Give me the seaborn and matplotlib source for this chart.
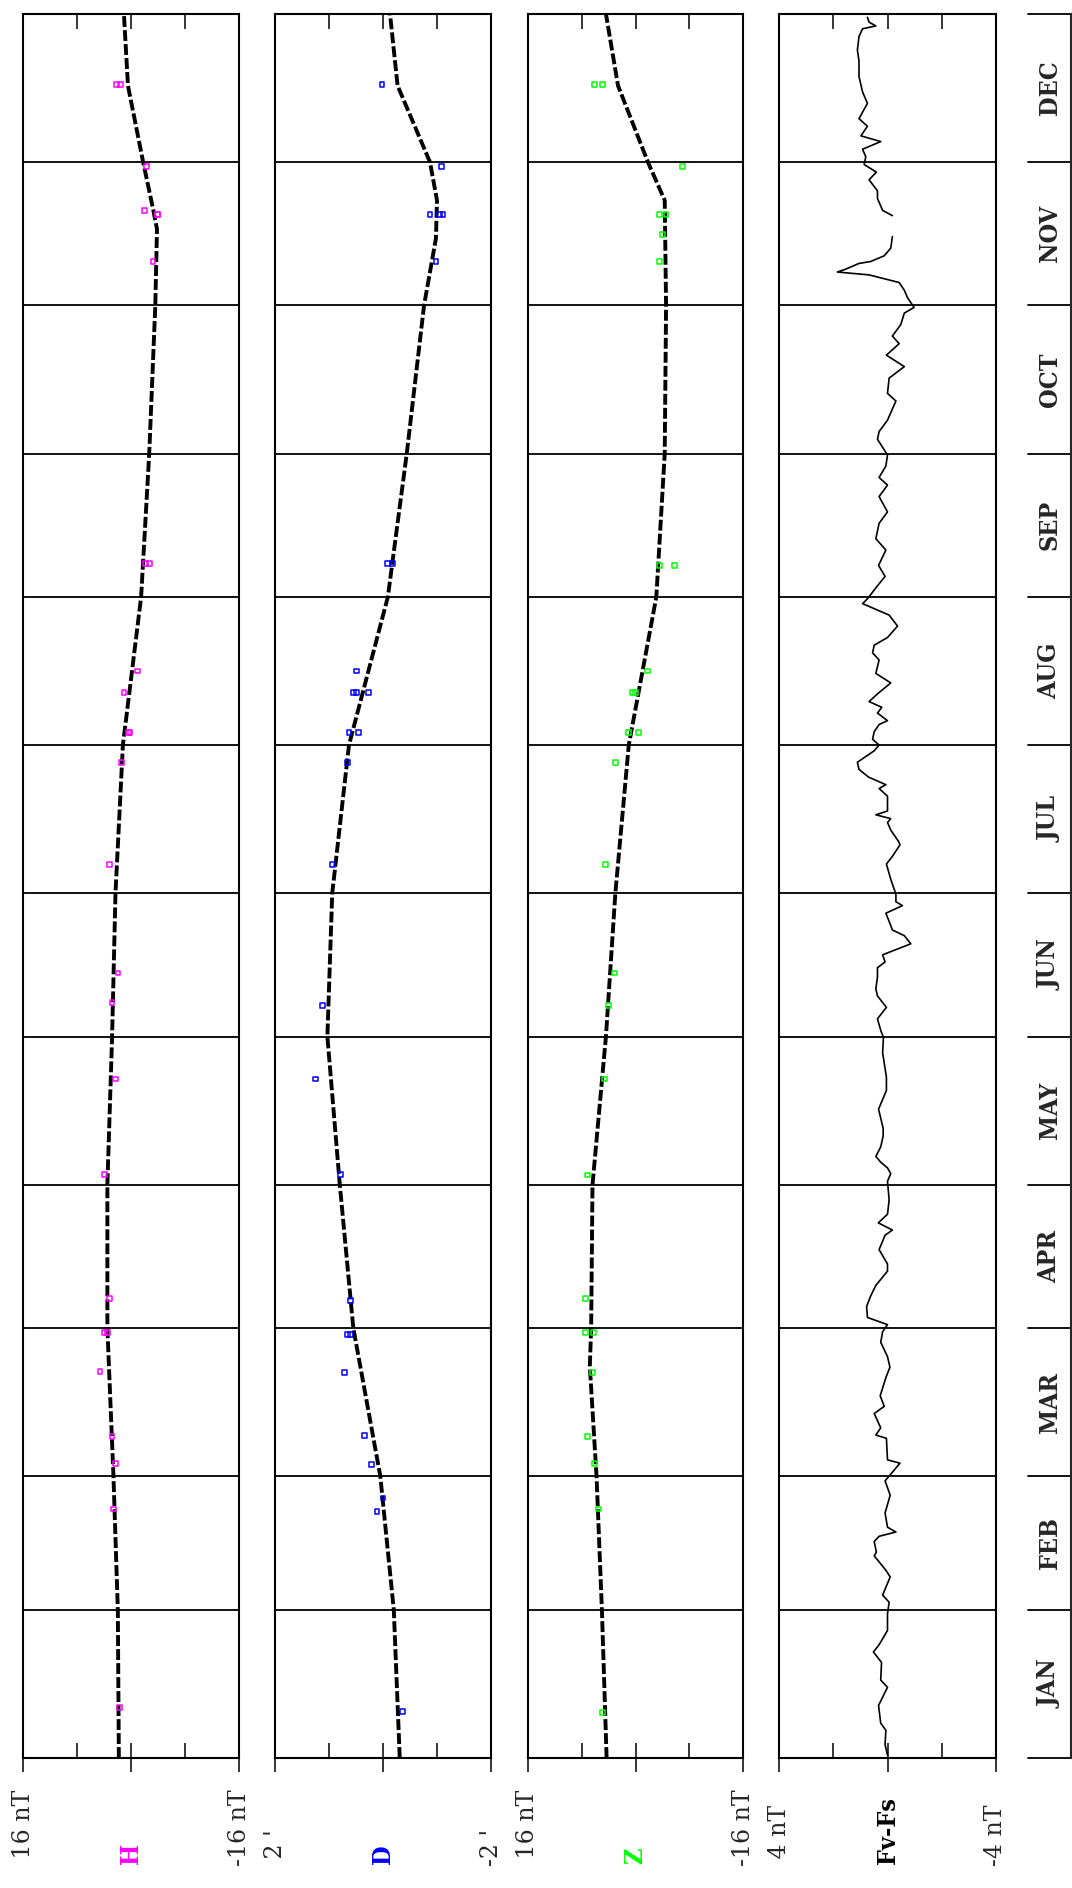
import numpy as np
import pandas as pd
import matplotlib
matplotlib.use('Agg')
import matplotlib.pyplot as plt
import seaborn as sns

# Month layout (day of year)
months = ['JAN', 'FEB', 'MAR', 'APR', 'MAY', 'JUN', 'JUL', 'AUG', 'SEP', 'OCT', 'NOV', 'DEC']
month_start = [0, 31, 59, 90, 120, 151, 181, 212, 243, 273, 304, 334, 365]

# Baselines (dashed black) per component
h_base_day = [0, 31, 59, 90, 120, 151, 181, 212, 243, 273, 304, 320, 324, 334, 350, 365]
h_base_val = [1.8, 1.95, 2.6, 3.5, 3.5, 2.8, 2.3, 1.2, -1.5, -2.7, -3.6, -3.85, -3.3, -1.8, 0.45, 1.05]
d_base_day = [0, 31, 59, 90, 120, 151, 181, 212, 243, 273, 304, 318, 326, 334, 350, 365]
d_base_val = [-0.31, -0.2, 0.05, 0.55, 0.8, 1.03, 0.94, 0.63, -0.09, -0.44, -0.76, -0.98, -1.0, -0.87, -0.27, -0.13]
z_base_day = [0, 31, 59, 82, 90, 120, 151, 181, 212, 243, 273, 304, 326, 334, 350, 365]
z_base_val = [4.3, 5.0, 5.8, 6.8, 6.6, 6.4, 4.4, 3.0, 1.0, -3.1, -4.35, -4.55, -4.35, -1.85, 2.6, 4.4]

# Absolute observations
h_obs_day = [10.6, 52.1, 61.7, 67.3, 80.9, 89, 89, 96.2, 122.2, 142.1, 158.2, 164.3, 187, 208.4, 214.7, 214.7,
             223, 227.5, 250, 250, 313.2, 323, 323.8, 323, 333.1, 350.3, 350.3]
h_obs_val = [1.75, 2.64, 2.28, 2.82, 4.6, 3.53, 3.89, 3.18, 3.89, 2.28, 2.82, 1.93, 3.18, 1.39, 0.32, 0.14,
             1.04, -0.93, -2.18, -2.71, -3.25, -3.96, -2.0, -3.96, -2.35, 1.57, 2.1]
d_obs_day = [9.8, 51.6, 54.4, 61.5, 67.5, 80.6, 88.7, 88.7, 95.7, 122.2, 142.1, 157.5, 187, 208.4, 214.7, 214.7,
             223, 223, 223, 227.5, 250, 250, 313.2, 323, 323, 323, 333.1, 350.3]
d_obs_val = [-0.36, 0.11, 0.0, 0.22, 0.34, 0.72, 0.65, 0.60, 0.60, 0.78, 1.25, 1.12, 0.94, 0.65, 0.63, 0.45,
             0.54, 0.27, 0.49, 0.49, -0.09, -0.18, -0.98, -1.05, -0.87, -1.11, -1.09, 0.02]
z_obs_day = [9.6, 52.1, 61.7, 67.3, 80.6, 89, 89, 96.2, 122, 142.1, 157.5, 164.3, 187, 208.4, 214.7, 214.7,
             223, 223, 227.5, 249.5, 249.5, 313.2, 318.8, 323, 323, 333.1, 350.3, 350.3]
z_obs_val = [4.97, 5.51, 6.05, 7.12, 6.41, 7.48, 6.23, 7.48, 7.12, 4.61, 4.07, 3.18, 4.43, 3.0, 1.03, -0.40,
             0.49, -0.05, -1.84, -5.78, -3.63, -3.63, -3.99, -4.53, -3.63, -7.04, 6.05, 4.97]

# Fv-Fs (nT); nan marks the data gap in November
fv_day = [0.6, 2.8, 5.8, 7.3, 11.0, 14.8, 16.3, 20.0, 22.2, 23.7, 26.7, 30.2, 32.6, 34.1, 37.9, 39.3, 42.3, 43.1,
          45.3, 46.4, 47.3, 48.3, 51.3, 55.0, 58.0, 61.7, 62.4, 66.9, 67.6, 69.1, 72.1, 73.6, 75.8, 79.6, 81.8,
          84.0, 87.0, 89.2, 90.7, 92.2, 94.5, 96.7, 98.9, 101.9, 103.4, 106.4, 109.4, 110.5, 112.0, 113.8, 116.8,
          120.7, 122.3, 123.5, 124.7, 125.9, 127.9, 130.2, 131.8, 135.8, 139.7, 142.5, 147.6, 150.8, 152.3, 154.7,
          157.1, 159.5, 161.0, 163.4, 165.4, 166.6, 168.1, 170.4, 172.1, 173.3, 174.5, 176.8, 178.4, 179.2, 180.8,
          183.9, 187.1, 188.7, 191.1, 191.8, 194.2, 195.8, 196.6, 197.4, 198.2, 201.3, 202.9, 203.7, 205.3, 206.9,
          208.4, 210.8, 212.0, 213.2, 214.8, 216.3, 217.1, 218.7, 219.9, 221.1, 222.7, 225.0, 227.0, 229.8, 231.3,
          232.9, 234.5, 236.9, 239.2, 241.6, 242.6, 244.9, 247.3, 249.6, 252.8, 255.2, 258.4, 260.8, 264.0, 266.4,
          268.0, 270.4, 272.7, 276.0, 277.6, 280.0, 284.0, 285.6, 288.8, 291.2, 293.6, 296.0, 297.6, 300.0, 302.4,
          303.6, 305.6, 307.2, 308.8, 310.4, 311.0, 311.6, 312.8, 313.2, 314.4, 316.0, 318.4, 320.6, 322.8, 323.9,
          326.4, 328.0, 330.3, 331.9, 333.5, 335.1, 336.7, 338.3, 339.5, 341.5, 343.1, 346.3, 348.7, 351.9, 355.1,
          357.5, 360.3, 361.9, 362.5, 363.3, 364.3]
fv_val = [0.0, 0.09, 0.06, 0.25, 0.33, 0.0, 0.25, 0.22, 0.52, 0.31, 0.0, 0.0, -0.06, 0.18, -0.10, 0.06, 0.49, 0.41,
          0.49, 0.31, -0.31, 0.0, 0.09, -0.10, 0.09, -0.46, 0.0, 0.04, 0.43, 0.25, 0.49, 0.12, 0.27, 0.06, -0.09,
          0.0, 0.25, 0.18, 0.0, 0.74, 0.77, 0.62, 0.43, 0.0, 0.0, 0.31, 0.09, -0.18, 0.34, 0.0, -0.06,
          0.0, -0.12, 0.0, 0.25, 0.43, 0.25, 0.16, 0.16, 0.33, 0.04, 0.04, 0.18, 0.15, 0.25, 0.37,
          0.04, 0.37, 0.43, 0.37, 0.37, 0.09, 0.18, -0.86, -0.62, -0.18, -0.10, 0.06, -0.55, -0.31, -0.31,
          -0.12, 0.04, -0.18, -0.46, -0.41, -0.12, 0.0, -0.12, 0.43, 0.0, 0.0, 0.31, 0.06, 0.70, 1.05,
          1.11, 0.49, 0.31, 0.55, 0.49, 0.31, 0.0, 0.37, 0.21, 0.68, 0.37, -0.12, 0.43, 0.31, 0.55,
          0.49, 0.0, -0.37, -0.06, 0.92, 0.74, 0.43, 0.09, 0.33, 0.06, 0.43, 0.31, 0.0, 0.31, 0.0,
          0.31, 0.06, 0.0, 0.37, 0.31, 0.0, -0.31, 0.0, -0.06, -0.62, 0.04, -0.43, -0.18, -0.49, -0.62,
          -0.98, -0.74, -0.62, -0.43, 0.68, 1.85, 1.54, 1.05, 0.62, 0.12, -0.12, -0.18, np.nan, -0.18, 0.18,
          0.37, 0.37, 0.68, 0.41, 0.86, 0.80, 0.92, 0.25, 0.98, 0.74, 1.05, 0.74, 0.92, 1.05, 1.05,
          1.11, 1.05, 0.92, 0.43, 0.68, 0.74]

sns.set_style('white')
plt.rcParams['font.family'] = ['DejaVu Serif', 'DejaVu Sans']

W, H = 1072, 1888
fig = plt.figure(figsize=(W / 100, H / 100), dpi=100)

top_px, bot_px = 14, 1758
fy0 = 1 - bot_px / H
fh = (bot_px - top_px) / H


def fx(px):
    return px / W


def fy(px):
    return 1 - px / H


panels = [
    ('H', '#ff00ff', 23, 239, 16, (' 16 nT', '-16 nT'), h_base_day, h_base_val, h_obs_day, h_obs_val),
    ('D', '#0000ff', 275, 491, 2, (" 2 '", "-2 '"), d_base_day, d_base_val, d_obs_day, d_obs_val),
    ('Z', '#00ff00', 528, 743, 16, (' 16 nT', '-16 nT'), z_base_day, z_base_val, z_obs_day, z_obs_val),
]

label_font = dict(family='DejaVu Serif', size=17)
bold_font = dict(family='DejaVu Serif', weight='bold', size=18, stretch='condensed')


def style_panel(ax, vmax, left_px, right_px, end_labels, name, name_color):
    ax.set_xlim(vmax, -vmax)
    ax.set_ylim(0, 365)
    ax.set_xticks([vmax, 0, -vmax])
    ax.set_xticks([vmax / 2, 0, -vmax / 2], minor=True)
    ax.xaxis.remove_overlapping_locs = False
    ax.tick_params(axis='x', which='major', direction='out', length=10, width=1.3,
                   bottom=True, top=False, labelbottom=False, labeltop=False)
    ax.tick_params(axis='x', which='minor', direction='in', length=11, width=1.3,
                   bottom=True, top=True)
    ax.set_yticks([])
    for m in month_start[1:-1]:
        ax.axhline(m, color='black', lw=1.3, zorder=1)
    for s in ax.spines.values():
        s.set_linewidth(1.5)
        s.set_color('black')
    ax.set_xlabel('')
    ax.set_ylabel('')
    fig.text(fx(left_px), fy(1866), end_labels[0], rotation=90, ha='center', va='bottom', **label_font)
    fig.text(fx(right_px), fy(1866), end_labels[1], rotation=90, ha='center', va='bottom', **label_font)
    fig.text(fx((left_px + right_px) / 2), fy(1864), name, rotation=90, ha='center', va='bottom',
             color=name_color, **bold_font)


for name, color, lpx, rpx, vmax, ends, bd, bv, od, ov in panels:
    ax = fig.add_axes([fx(lpx), fy0, fx(rpx - lpx), fh])
    # baseline
    sns.lineplot(x=bv, y=bd, sort=False, estimator=None, color='black', lw=2.8,
                 dashes=False, ax=ax, zorder=3)
    ax.lines[-1].set_dashes([2.8, 0.8])
    # observed values
    sns.scatterplot(x=ov, y=od, marker='s', s=12, color=color, linewidth=1.1, ax=ax, zorder=4)
    ax.collections[-1].set_facecolor('none')
    ax.collections[-1].set_edgecolor(color)
    style_panel(ax, vmax, lpx, rpx, ends, name, color)

# Fv-Fs panel
fv = pd.DataFrame({'day': fv_day, 'val': fv_val})
fv['seg'] = fv['val'].isna().cumsum()
fv = fv.dropna()
ax = fig.add_axes([fx(779), fy0, fx(996 - 779), fh])
sns.lineplot(data=fv, x='val', y='day', units='seg', estimator=None, sort=False,
             color='black', lw=1.2, ax=ax)
style_panel(ax, 4, 779, 996, (' 4 nT', '-4 nT'), 'Fv-Fs', 'black')

# Month column
axm = fig.add_axes([fx(1028), fy0, fx(1071 - 1028), fh])
axm.set_xlim(0, 1)
axm.set_ylim(0, 365)
for side in ['left', 'top', 'bottom']:
    axm.spines[side].set_visible(False)
axm.spines['right'].set_linewidth(1.5)
axm.set_xticks([])
axm.set_yticks([])
for m in month_start:
    axm.axhline(m, color='black', lw=1.3, clip_on=False)
for i, mname in enumerate(months):
    mid = (month_start[i] + month_start[i + 1]) / 2
    axm.text(0.5, mid, mname, rotation=90, ha='center', va='center', **bold_font)

fig.savefig('out.png', dpi=100)
